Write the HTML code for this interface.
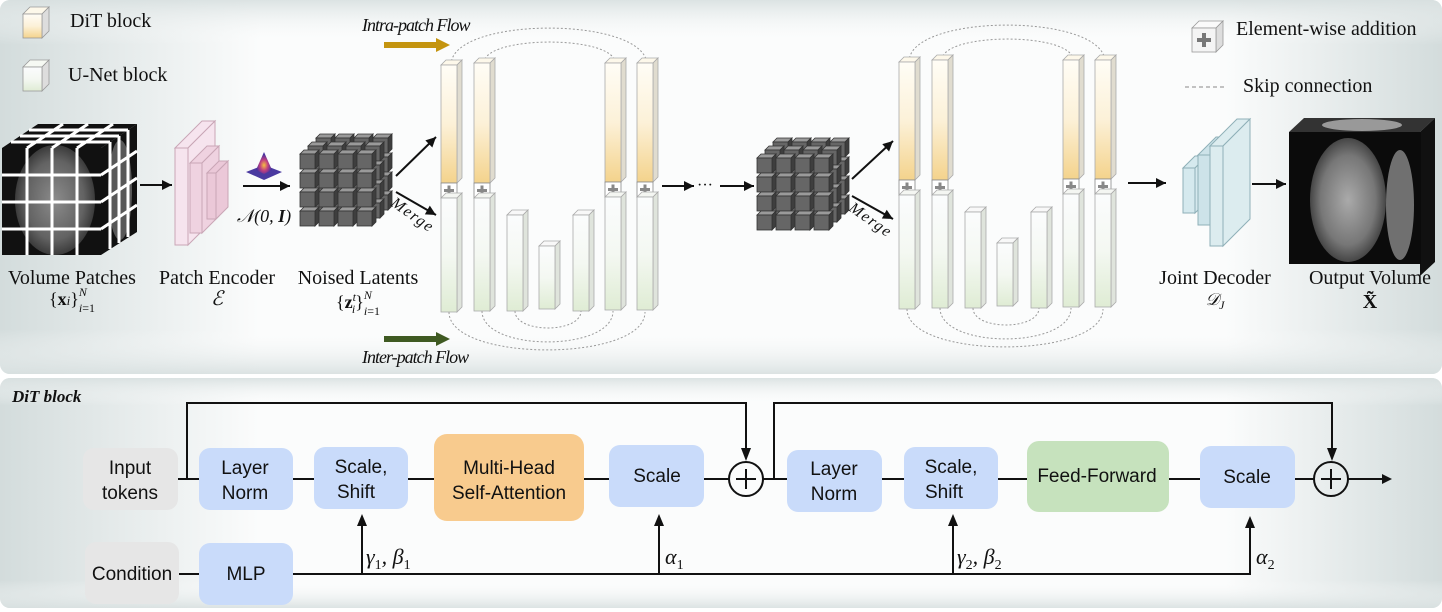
<!DOCTYPE html>
<html><head><meta charset="utf-8"><style>
html,body{margin:0;padding:0;background:#fff;}
svg{display:block}
.s{font-family:"Liberation Serif",serif;fill:#111}
.a{font-family:"Liberation Sans",sans-serif;fill:#111;font-size:19px;text-anchor:middle}
</style></head><body>
<svg id="sv" width="1442" height="612" viewBox="0 0 1442 612" xmlns="http://www.w3.org/2000/svg">
<defs>
<linearGradient id="ph" x1="0" x2="1" y1="0" y2="0">
<stop offset="0" stop-color="#d3dcdc"/><stop offset="0.18" stop-color="#fbfcfc"/><stop offset="0.85" stop-color="#fbfcfc"/><stop offset="1" stop-color="#d3dcdc"/></linearGradient>
<linearGradient id="pv" x1="0" x2="0" y1="0" y2="1">
<stop offset="0" stop-color="#d8e0e0" stop-opacity="0.9"/><stop offset="0.12" stop-color="#fff" stop-opacity="0"/><stop offset="0.88" stop-color="#fff" stop-opacity="0"/><stop offset="1" stop-color="#d8e0e0" stop-opacity="0.9"/></linearGradient>
<linearGradient id="gy" x1="0" x2="0" y1="0" y2="1"><stop offset="0" stop-color="#fffdf6"/><stop offset="0.5" stop-color="#fcf1d8"/><stop offset="1" stop-color="#f4d38c"/></linearGradient>
<linearGradient id="gg" x1="0" x2="0" y1="0" y2="1"><stop offset="0" stop-color="#fbfcfd"/><stop offset="0.5" stop-color="#f4f8f2"/><stop offset="1" stop-color="#dfecd4"/></linearGradient>
<radialGradient id="gs" cx="0.5" cy="0.6" r="0.5"><stop offset="0" stop-color="#f6c040"/><stop offset="0.5" stop-color="#c04080"/><stop offset="1" stop-color="#4030a0"/></radialGradient>
<radialGradient id="ct" cx="0.5" cy="0.5" r="0.6"><stop offset="0" stop-color="#aaa"/><stop offset="0.6" stop-color="#777"/><stop offset="1" stop-color="#222"/></radialGradient>
</defs>
<rect x="0" y="0" width="1442" height="374" rx="10" fill="url(#ph)"/>
<rect x="0" y="0" width="1442" height="374" rx="10" fill="url(#pv)"/>
<rect x="0" y="378" width="1442" height="230" rx="10" fill="url(#ph)"/>
<rect x="0" y="378" width="1442" height="230" rx="10" fill="url(#pv)"/>
<g id="dyn"></g>
<text class="s" x="70" y="27" font-size="20">DiT block</text>
<text class="s" x="68" y="81" font-size="20">U-Net block</text>
<text class="s" x="1236" y="35" font-size="20">Element-wise addition</text>
<line x1="1185" y1="87" x2="1226" y2="87" stroke="#888" stroke-dasharray="4,3"/>
<text class="s" x="1243" y="92" font-size="20">Skip connection</text>
<text class="s" x="362" y="31" font-size="18" font-style="italic" letter-spacing="-1">Intra-patch Flow</text>
<text class="s" x="362" y="363" font-size="18" font-style="italic" letter-spacing="-1">Inter-patch Flow</text>
<line x1="384" y1="45" x2="438" y2="45" stroke="#c4940f" stroke-width="6"/><polygon points="436,38 450,45 436,52" fill="#c4940f"/>
<line x1="384" y1="339" x2="438" y2="339" stroke="#3f5a22" stroke-width="6"/><polygon points="436,332 450,339 436,346" fill="#3f5a22"/>
<text class="s" x="72" y="284" font-size="20" text-anchor="middle">Volume Patches</text>
<text class="s" x="72" y="305" font-size="18" text-anchor="middle">{<tspan font-weight="bold">x</tspan><tspan font-style="italic" font-size="13">i</tspan>}<tspan font-size="12" dy="-9" font-style="italic">N</tspan><tspan font-size="12" dx="-8" dy="16" font-style="italic">i</tspan><tspan font-size="12">=1</tspan></text>
<text class="s" x="217" y="284" font-size="20" text-anchor="middle">Patch Encoder</text>
<text class="s" x="217" y="305" font-size="20" text-anchor="middle" font-style="italic">ℰ</text>
<text class="s" x="358" y="284" font-size="20" text-anchor="middle">Noised Latents</text>
<text class="s" x="358" y="308" font-size="18" text-anchor="middle">{<tspan font-weight="bold">z</tspan><tspan font-style="italic" font-size="12" dy="-7">t</tspan><tspan font-style="italic" font-size="12" dx="-4" dy="12">i</tspan><tspan dy="-5">}</tspan><tspan font-size="12" dy="-9" font-style="italic">N</tspan><tspan font-size="12" dx="-8" dy="16" font-style="italic">i</tspan><tspan font-size="12">=1</tspan></text>
<text class="s" x="264" y="222" font-size="18" text-anchor="middle" font-style="italic">𝒩(0, <tspan font-weight="bold">I</tspan>)</text>
<text class="s" x="1215" y="284" font-size="20" text-anchor="middle">Joint Decoder</text>
<text class="s" x="1215" y="305" font-size="17" text-anchor="middle" font-style="italic">𝒟<tspan font-size="12" dy="4">J</tspan></text>
<text class="s" x="1370" y="284" font-size="20" text-anchor="middle">Output Volume</text>
<text class="s" x="1370" y="308" font-size="20" text-anchor="middle" font-weight="bold">X̃</text>
<text class="s" x="0" y="0" font-size="16" font-style="italic" transform="translate(390,205) rotate(35)" letter-spacing="1.5">Merge</text>
<text class="s" x="0" y="0" font-size="16" font-style="italic" transform="translate(848,210) rotate(35)" letter-spacing="1.5">Merge</text>
<text class="s" x="697" y="190" font-size="16">···</text>

<text class="s" x="12" y="402" font-size="17" font-weight="bold" font-style="italic">DiT block</text>
<g stroke="#111" stroke-width="2" fill="none">
<line x1="178" y1="479" x2="199" y2="479"/><line x1="293" y1="479" x2="314" y2="479"/><line x1="408" y1="479" x2="434" y2="479"/><line x1="584" y1="479" x2="609" y2="479"/><line x1="704" y1="479" x2="729" y2="479"/>
<line x1="763" y1="479" x2="787" y2="479"/><line x1="882" y1="479" x2="904" y2="479"/><line x1="998" y1="479" x2="1027" y2="479"/><line x1="1169" y1="479" x2="1200" y2="479"/><line x1="1294" y1="479" x2="1314" y2="479"/><line x1="1348" y1="479" x2="1384" y2="479"/>
<polyline points="187,479 187,403 746,403 746,450"/>
<polyline points="774,479 774,403 1332,403 1332,450"/>
<line x1="179" y1="574" x2="199" y2="574"/>
<polyline points="293,574 1250,574 1250,526"/>
<line x1="362" y1="574" x2="362" y2="524"/><line x1="659" y1="574" x2="659" y2="524"/><line x1="953" y1="574" x2="953" y2="524"/>
<circle cx="746" cy="479" r="17"/><circle cx="1331" cy="479" r="17"/>
<line x1="736" y1="479" x2="756" y2="479"/><line x1="746" y1="469" x2="746" y2="489"/>
<line x1="1321" y1="479" x2="1341" y2="479"/><line x1="1331" y1="469" x2="1331" y2="489"/>
</g>
<g fill="#111">
<polygon points="741,448 751,448 746,461"/><polygon points="1327,448 1337,448 1332,461"/>
<polygon points="1382,474 1392,479 1382,484"/>
<polygon points="357,526 367,526 362,514"/><polygon points="654,526 664,526 659,514"/><polygon points="948,526 958,526 953,514"/><polygon points="1245,528 1255,528 1250,516"/>
</g>
<rect x="83" y="448" width="95" height="62" rx="11" fill="#e6e6e6"/>
<rect x="85" y="542" width="94" height="62" rx="11" fill="#e6e6e6"/>
<rect x="199" y="448" width="94" height="62" rx="11" fill="#c9dbfa"/>
<rect x="199" y="543" width="94" height="62" rx="11" fill="#c9dbfa"/>
<rect x="314" y="447" width="94" height="62" rx="11" fill="#c9dbfa"/>
<rect x="434" y="434" width="150" height="87" rx="13" fill="#f8cb8e"/>
<rect x="609" y="445" width="95" height="62" rx="11" fill="#c9dbfa"/>
<rect x="787" y="450" width="95" height="62" rx="11" fill="#c9dbfa"/>
<rect x="904" y="447" width="94" height="62" rx="11" fill="#c9dbfa"/>
<rect x="1027" y="441" width="142" height="71" rx="12" fill="#c6e2bd"/>
<rect x="1200" y="446" width="95" height="62" rx="11" fill="#c9dbfa"/>
<text class="a" x="130" y="474">Input</text><text class="a" x="130" y="499">tokens</text>
<text class="a" x="245" y="474">Layer</text><text class="a" x="245" y="499">Norm</text>
<text class="a" x="361" y="473">Scale,</text><text class="a" x="356" y="498">Shift</text>
<text class="a" x="509" y="474">Multi-Head</text><text class="a" x="509" y="499">Self-Attention</text>
<text class="a" x="657" y="482">Scale</text>
<text class="a" x="834" y="475">Layer</text><text class="a" x="834" y="500">Norm</text>
<text class="a" x="951" y="473">Scale,</text><text class="a" x="944" y="498">Shift</text>
<text class="a" x="1097" y="482">Feed-Forward</text>
<text class="a" x="1247" y="483">Scale</text>
<text class="a" x="132" y="580">Condition</text>
<text class="a" x="246" y="580">MLP</text>
<text class="s" x="366" y="564" font-size="22" font-style="italic">γ<tspan font-size="14" dy="5" font-style="normal">1</tspan><tspan dy="-5">, β</tspan><tspan font-size="14" dy="5" font-style="normal">1</tspan></text>
<text class="s" x="665" y="564" font-size="22" font-style="italic">α<tspan font-size="14" dy="5" font-style="normal">1</tspan></text>
<text class="s" x="957" y="564" font-size="22" font-style="italic">γ<tspan font-size="14" dy="5" font-style="normal">2</tspan><tspan dy="-5">, β</tspan><tspan font-size="14" dy="5" font-style="normal">2</tspan></text>
<text class="s" x="1256" y="564" font-size="22" font-style="italic">α<tspan font-size="14" dy="5" font-style="normal">2</tspan></text>
</svg>
<script>
var NS="http://www.w3.org/2000/svg",G=document.getElementById("dyn");
function el(t,a){var e=document.createElementNS(NS,t);for(var k in a)e.setAttribute(k,a[k]);G.appendChild(e);return e;}
function poly(p,f,s,sw){return el("polygon",{points:p,fill:f,stroke:s||"none","stroke-width":sw||1});}
function arrow(x1,y1,x2,y2){el("line",{x1:x1,y1:y1,x2:x2,y2:y2,stroke:"#111","stroke-width":2});var a=Math.atan2(y2-y1,x2-x1),L=10,W=5;
poly(x2+","+y2+" "+(x2-L*Math.cos(a)+W*Math.sin(a))+","+(y2-L*Math.sin(a)-W*Math.cos(a))+" "+(x2-L*Math.cos(a)-W*Math.sin(a))+","+(y2-L*Math.sin(a)+W*Math.cos(a)),"#111");}
function box3(x,y,w,h,d,f,top,side,st){poly(x+","+y+" "+(x+d)+","+(y-d)+" "+(x+w+d)+","+(y-d)+" "+(x+w)+","+y,top,st,0.8);
poly((x+w)+","+y+" "+(x+w+d)+","+(y-d)+" "+(x+w+d)+","+(y+h-d)+" "+(x+w)+","+(y+h),side,st,0.8);
el("rect",{x:x,y:y,width:w,height:h,fill:f,stroke:st||"none","stroke-width":0.8});}
box3(23,14,19,24,7,"url(#gy)","#fdf8ea","#ddd","#999");
box3(23,67,19,24,7,"url(#gg)","#f6f9f3","#ddd","#999");
box3(1192,28,24,24,7,"#f4f4f4","#fafafa","#ddd","#999");
el("rect",{x:1202,y:33,width:4,height:14,fill:"#777"});el("rect",{x:1197,y:38,width:14,height:4,fill:"#777"});
function arc(x1,x2,y,peak){el("path",{d:"M"+x1+","+y+" C"+x1+","+(y+(peak-y)*1.33)+" "+x2+","+(y+(peak-y)*1.33)+" "+x2+","+y,fill:"none",stroke:"#999","stroke-width":1,"stroke-dasharray":"2,2"});}
function unet(o,dy){var B=[[441,65,183,312],[474,63,183,311],[507,215,0,311],[539,246,0,309],[573,215,0,311],[605,63,182,310],[637,63,182,310]];
arc(451+o,647+o,65+dy,28+dy);arc(484+o,615+o,63+dy,42+dy);
arc(449+o,645+o,312+dy,350+dy);arc(482+o,613+o,311+dy,342+dy);arc(515+o,581+o,311+dy,328+dy);
B.forEach(function(b){var x=b[0]+o,t=b[1]+dy,m=b[2]?b[2]+dy:0,bt=b[3]+dy,w=16,d=5;
if(m){box3(x,t,w,m-t,d,"url(#gy)","#fdf8ea","#e0dccf","#aaa");
 el("rect",{x:x,y:m,width:w,height:15,fill:"#fff",stroke:"#888","stroke-width":0.8});
 el("rect",{x:x+6.5,y:m+2.5,width:3,height:10,fill:"#888"});el("rect",{x:x+3,y:m+6,width:10,height:3,fill:"#888"});
 box3(x,m+15,w,bt-m-15,d,"url(#gg)","#f4f6f2","#dfe4dc","#aaa");}
else box3(x,t,w,bt-t,d,"url(#gg)","#f8f8f8","#dfe4dc","#aaa");});}
unet(0,0);unet(458,-3);
function lat(x0,y0){for(var d=2;d>=0;d--)for(var j=0;j<4;j++)for(var i=0;i<4;i++){var x=x0+i*19+d*8,y=y0+j*19-d*8;
box3(x,y,15,15,4,"#666","#9a9a9a","#3e3e3e","#333");}}
lat(300,154);lat(757,158);
arrow(396,176,436,137);arrow(396,192,436,215);
arrow(852,179,893,141);arrow(852,196,893,219);
poly("2,148 38,124 137,124 101,148","#111");poly("101,148 137,124 137,232 101,255","#111");
el("rect",{x:2,y:148,width:99,height:107,fill:"#111"});
el("ellipse",{cx:55,cy:200,rx:40,ry:55,fill:"url(#ct)",opacity:0.8});
el("ellipse",{cx:120,cy:190,rx:12,ry:50,fill:"#888",opacity:0.6});
for(var k=1;k<4;k++){var xx=2+k*25,yy=148+k*27;el("line",{x1:xx,y1:148,x2:xx,y2:255,stroke:"#fff","stroke-width":3});
el("line",{x1:2,y1:yy,x2:101,y2:yy,stroke:"#fff","stroke-width":3});
el("line",{x1:101+k*9,y1:148-k*6,x2:101+k*9,y2:255-k*6,stroke:"#fff","stroke-width":3});
el("line",{x1:101,y1:yy,x2:137,y2:yy-24,stroke:"#fff","stroke-width":3});
el("line",{x1:2+k*9,y1:148-k*6,x2:101+k*9,y2:148-k*6,stroke:"#fff","stroke-width":3});
el("line",{x1:xx,y1:148,x2:xx+36,y2:124,stroke:"#fff","stroke-width":3});}
arrow(140,185,172,185);
function slab(x,y,w,h,d,f,s){poly(x+","+y+" "+(x+d)+","+(y-d)+" "+(x+d+w)+","+(y-d)+" "+(x+w)+","+y,f,s);poly((x+w)+","+y+" "+(x+w+d)+","+(y-d)+" "+(x+w+d)+","+(y+h-d)+" "+(x+w)+","+(y+h),f,s);el("rect",{x:x,y:y,width:w,height:h,fill:f,stroke:s,"stroke-width":1});}
slab(175,148,13,97,27,"#f6e4ee","#c9a6b6");slab(190,163,12,70,17,"#efd2e0","#c9a6b6");slab(207,173,9,46,12,"#ebc8d8","#c9a6b6");
poly("246,172 264,165 282,172 264,180","#4a3aa0");poly("256,170 264,152 272,170 264,174","url(#gs)");
arrow(243,186,290,186);
arrow(662,186,694,186);arrow(720,186,754,186);
arrow(1128,183,1166,183);
slab(1183,168,12,45,12,"#d5e9ee","#8fb0b8");slab(1198,155,12,70,18,"#cde3e9","#8fb0b8");slab(1210,146,13,100,27,"#dcecef","#8fb0b8");
arrow(1252,184,1286,184);
poly("1289,132 1304,118 1435,118 1420,132","#333");poly("1420,132 1435,118 1435,262 1420,276","#111");
el("rect",{x:1289,y:132,width:132,height:132,fill:"#0b0b0b"});
el("ellipse",{cx:1348,cy:200,rx:38,ry:62,fill:"url(#ct)"});
el("ellipse",{cx:1400,cy:205,rx:14,ry:55,fill:"#8a8a8a",opacity:0.8});
el("ellipse",{cx:1362,cy:125,rx:40,ry:6,fill:"#999"});
</script>
</body></html>
